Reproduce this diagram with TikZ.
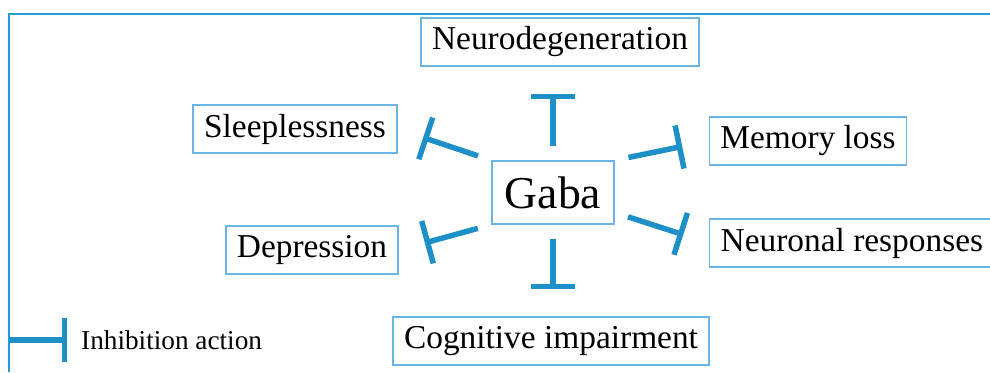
\documentclass[tikz,border=0pt]{standalone}
\usepackage{fontspec}
\setmainfont{Liberation Serif}
\usepackage{tikz}
\usetikzlibrary{positioning, arrows.meta}
\definecolor{inhibblue}{RGB}{30,144,200}
\definecolor{boxblue}{RGB}{105,182,230}
\definecolor{frameblue}{RGB}{35,155,215}

\begin{document}
\begin{tikzpicture}[x=0.02cm, y=-0.02cm,
        % Define styles for the boxes and the inhibition lines
        effect/.style={rectangle, draw=boxblue, line width=0.8pt, text centered, minimum height=0.96cm, inner xsep=0.22cm, font=\fontsize{19}{22}\selectfont},
        centre/.style={effect, minimum width=2.44cm, minimum height=1.26cm, font=\fontsize{26}{29}\selectfont},
        inhib/.style={line width=0.11cm, draw=inhibblue, -{Bar[width=0.88cm]}, shorten <=0.28cm, shorten >=0.54cm}
    ]
    \useasboundingbox (0,0) rectangle (990,372);

    % Outer frame
    \draw[frameblue, line width=1pt] (9,372) -- (9,14) -- (990,14);

    % Define nodes
    \node[centre] (gaba) at (553,192.5) {Gaba};
    \node[effect] (neuro) at (560,42) {Neurodegeneration};
    \node[effect] (sleep) at (295,129) {Sleeplessness};
    \node[effect] (depr) at (312,250) {Depression};
    \node[effect] (cog) at (551,341) {Cognitive impairment};
    \node[effect] (memory) at (808,141) {Memory loss};
    \node[effect, anchor=west] (neuronal) at (709,243) {Neuronal responses};

    % Draw inhibition lines
    \draw[inhib] (gaba.north) -- (gaba.north |- neuro.south);
    \draw[inhib] (gaba.south) -- (gaba.south |- cog.north);
    \draw[inhib] (gaba.north west) -- (sleep.east);
    \draw[inhib] (gaba.south west) -- (depr.east);
    \draw[inhib] (gaba.north east) -- (memory.west);
    \draw[inhib] (gaba.-18) -- (neuronal.west);

    % Legend
    \coordinate (legstart) at (9,340);
    \coordinate (legend) at (67,340);
    \draw[inhib, shorten <=0pt, shorten >=0pt] (legstart) -- (legend);
    \node[right=0.16cm of legend, font=\fontsize{15.5}{18}\selectfont] (legtext) {Inhibition action};
\end{tikzpicture}
\end{document}
